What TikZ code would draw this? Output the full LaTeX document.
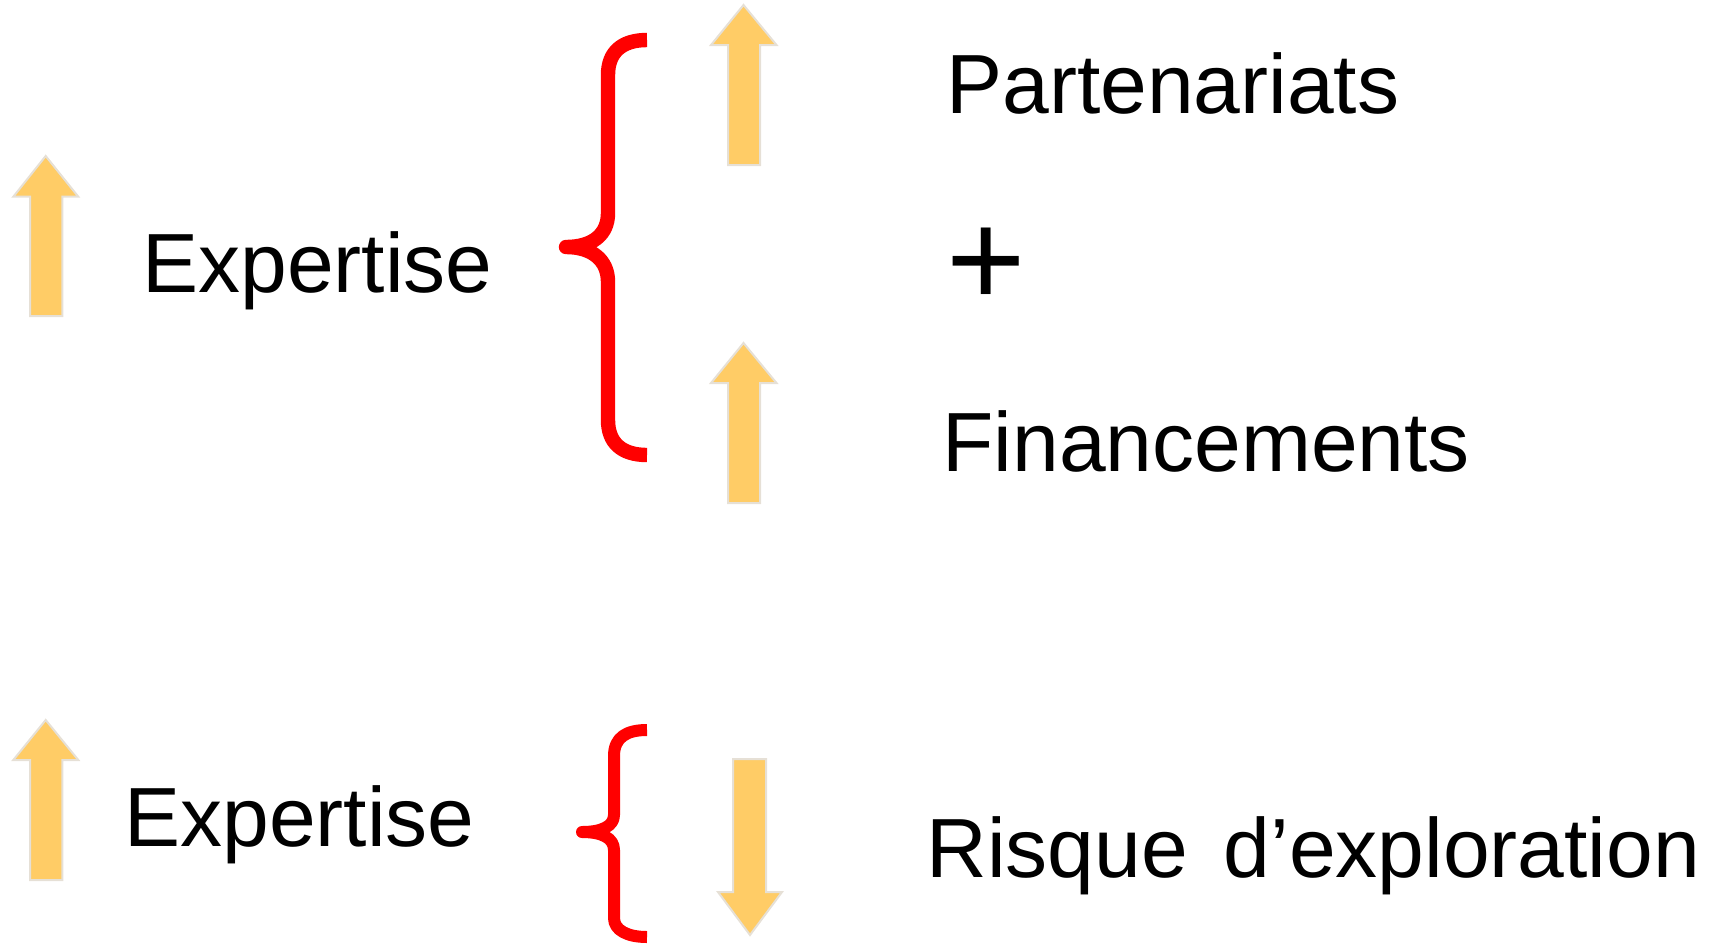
\documentclass[tikz,border=0pt]{standalone}
\usepackage{fontspec}
\setmainfont{Liberation Sans}
\definecolor{arrfill}{HTML}{FFCC66}
\definecolor{arrline}{HTML}{E6E0D6}
\tikzset{
  bigarrow/.style={fill=arrfill, draw=arrline, line width=1pt, line join=miter},
  bracestroke/.style={draw=red, line join=round, line cap=butt},
  lbl/.style={anchor=base west, inner sep=0pt, font=\fontsize{42}{50}\selectfont},
}
\begin{document}
\begin{tikzpicture}[x=0.5pt, y=-0.5pt]
\useasboundingbox (0,0) rectangle (1709,943);
% arrows
\path[bigarrow] (30,316) -- (30,196.7) -- (13.3,196.7) -- (45.7,156) -- (78.3,196.7) -- (62.3,196.7) -- (62.3,316) -- cycle;
\path[bigarrow] (30,880) -- (30,760) -- (13.3,760) -- (45.7,720) -- (78.3,760) -- (62.3,760) -- (62.3,880) -- cycle;
\path[bigarrow] (728,165) -- (728,45) -- (711,45) -- (743.5,5) -- (776.5,45) -- (760,45) -- (760,165) -- cycle;
\path[bigarrow] (728,503) -- (728,383) -- (711,383) -- (743.5,343) -- (776.5,383) -- (760,383) -- (760,503) -- cycle;
\path[bigarrow] (733,759) -- (766,759) -- (766,892) -- (782,892) -- (750,935) -- (718,892) -- (733,892) -- cycle;
% braces
\draw[bracestroke, line width=7.2pt] (647,40) .. controls (622,40) and (608,52) .. (608,75)
  -- (608,213) .. controls (608,235) and (592,247) .. (566,247)
  .. controls (592,247) and (608,260) .. (608,282)
  -- (608,420) .. controls (608,443) and (622,455) .. (647,455);
\draw[bracestroke, line width=6pt] (647,730) .. controls (627,730) and (614,737) .. (614,756)
  -- (614,815) .. controls (614,826) and (602,832) .. (582,832)
  .. controls (602,832) and (614,838) .. (614,850)
  -- (614,918) .. controls (614,930) and (627,937) .. (647,937);
% labels
\node[lbl] (exp1) at (142,292) {Expertise};
\node[lbl] (part) at (946,113) {Partenariats};
\node[anchor=center, inner sep=0pt, font=\fontsize{68}{80}\selectfont] (plus) at (986,267) {+};
\node[lbl] (fin) at (942,471) {Financements};
\node[lbl] (exp2) at (124,846) {Expertise};
\node[lbl] (risk) at (926,877) {\spaceskip=18pt Risque d’exploration};
\end{tikzpicture}
\end{document}
